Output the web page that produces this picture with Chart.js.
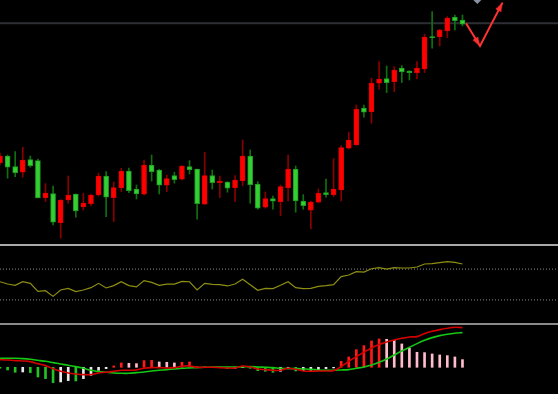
<!DOCTYPE html>
<html><head><meta charset="utf-8">
<script src="https://cdn.jsdelivr.net/npm/chart.js@4.4.1/dist/chart.umd.min.js"></script>
<style>
html,body{margin:0;padding:0;background:#000;overflow:hidden;}
#wrap{position:relative;width:558px;height:394px;background:#000;}
canvas{position:absolute;left:0;display:block;}
.sep{position:absolute;left:0;width:558px;height:2px;}
</style></head><body>
<div id="wrap">
<canvas id="main" width="558" height="244" style="top:0;width:558px;height:244px"></canvas>
<div class="sep" style="top:244px;background:#a9a9a9"></div>
<canvas id="rsi" width="558" height="77" style="top:246px;width:558px;height:77px"></canvas>
<div class="sep" style="top:323px;background:#8a8a8a"></div>
<canvas id="macd" width="558" height="69" style="top:325px;width:558px;height:69px"></canvas>
</div>
<script>
// ---- data ----
const openP  = [11.87,12.20,11.67,11.39,12.02,11.97,10.12,10.32,8.87,10.00,
                10.29,9.65,9.82,10.25,11.19,10.12,10.60,11.45,10.54,10.29,
                11.74,11.49,10.74,11.22,11.04,11.67,11.54,9.79,11.22,10.87,
                10.90,10.62,10.95,12.19,10.80,9.64,10.07,9.92,10.62,11.55,
                9.95,9.49,9.89,10.37,10.27,10.50,12.59,12.75,14.60,14.42,
                15.84,16.07,15.92,16.60,16.44,16.37,16.55,18.17,18.15,18.45,
                19.14,19.00];
const highP  = [12.35,12.25,12.42,12.64,12.20,12.05,10.82,10.70,10.02,11.20,
                10.30,10.34,10.30,11.34,11.42,10.90,11.59,11.59,10.75,12.00,
                12.25,11.54,11.24,11.39,11.72,11.97,11.55,12.39,11.50,11.20,
                10.92,11.22,13.00,12.50,10.92,10.40,10.20,10.75,12.25,11.70,
                10.27,9.94,10.55,11.04,12.07,12.72,13.39,14.75,14.74,16.09,
                16.92,16.70,16.67,16.72,16.47,16.92,18.29,19.42,18.54,19.17,
                19.25,19.25];
const lowP   = [11.75,11.09,11.17,11.14,11.64,10.10,9.92,8.75,8.09,9.84,
                9.14,9.50,9.70,10.20,9.17,8.92,10.42,10.37,10.05,10.25,
                10.95,10.30,10.42,10.84,11.00,11.30,9.04,9.78,10.55,10.12,
                10.39,9.92,10.72,9.84,9.54,9.59,9.54,9.22,9.95,9.39,
                9.54,8.55,9.85,10.14,10.17,9.95,12.55,12.74,14.14,13.84,
                15.54,15.37,15.42,15.87,16.00,16.05,16.37,17.59,17.70,18.12,
                18.50,18.70];
const closeP = [12.20,11.64,11.37,12.00,11.72,10.10,10.34,8.89,10.00,10.25,
                9.45,9.85,10.25,11.20,10.14,10.62,11.45,10.47,10.30,11.74,
                11.42,10.74,11.07,11.02,11.70,11.52,9.82,11.22,10.87,10.94,
                10.59,10.99,12.19,10.77,9.59,10.07,9.94,10.67,11.55,9.95,
                9.72,9.90,10.35,10.27,10.54,12.62,13.00,14.55,14.39,15.85,
                16.05,15.87,16.50,16.40,16.37,16.59,18.15,18.12,18.49,19.10,
                18.97,18.79];
const rsiValues = [53.6,50.6,48.9,53.6,51.5,41.1,42.0,34.6,42.9,45.0,
                   40.7,42.9,45.9,51.5,45.5,48.5,53.6,48.5,46.8,55.0,
                   52.8,48.9,50.6,50.6,54.1,53.6,42.9,51.5,50.2,49.8,
                   48.1,50.6,56.7,49.8,42.4,45.0,44.6,49.0,53.6,45.9,
                   44.6,45.0,47.6,48.5,49.8,60.2,62.3,66.7,66.2,70.5,
                   71.8,70.1,71.8,71.4,71.4,72.7,76.6,77.1,78.4,79.7,
                   78.8,76.6];
const rsiLevels = [70, 30];
const difValues = [0.138,0.132,0.120,0.114,0.102,0.066,0.030,-0.024,-0.072,-0.102,
                   -0.120,-0.132,-0.132,-0.102,-0.090,-0.072,-0.054,-0.054,-0.048,-0.018,
                   -0.006,-0.006,-0.012,-0.006,0.018,0.024,0,0,0,-0.006,
                   -0.012,-0.012,0.024,0.006,-0.030,-0.042,-0.054,-0.054,-0.018,-0.036,
                   -0.066,-0.072,-0.066,-0.066,-0.060,0.012,0.108,0.192,0.270,0.348,
                   0.408,0.456,0.492,0.522,0.546,0.552,0.606,0.648,0.678,0.702,
                   0.720,0.714];
const deaValues = [0.162,0.162,0.162,0.156,0.144,0.126,0.108,0.084,0.060,0.036,
                   0.012,-0.018,-0.054,-0.078,-0.090,-0.102,-0.108,-0.108,-0.096,-0.084,
                   -0.066,-0.054,-0.042,-0.030,-0.018,-0.012,-0.006,0,0,0.006,
                   0.006,0.006,0.006,0.012,0.006,0,-0.006,-0.018,-0.024,-0.024,
                   -0.030,-0.036,-0.048,-0.054,-0.054,-0.048,-0.042,-0.018,0.006,0.042,
                   0.090,0.150,0.222,0.294,0.360,0.426,0.486,0.534,0.570,0.594,
                   0.612,0.624];
const histValues = [-0.018,-0.048,-0.090,-0.084,-0.096,-0.174,-0.204,-0.276,-0.264,-0.240,
                    -0.246,-0.204,-0.144,-0.054,-0.024,0.024,0.078,0.072,0.066,0.120,
                    0.126,0.096,0.090,0.078,0.090,0.096,0.006,0.006,0.009,0.003,
                    -0.024,-0.018,-0.006,-0.018,-0.060,-0.072,-0.090,-0.072,-0.024,-0.066,
                    -0.060,-0.054,-0.048,-0.024,-0.012,0.108,0.186,0.318,0.390,0.474,
                    0.510,0.504,0.486,0.420,0.342,0.270,0.264,0.240,0.222,0.210,
                    0.186,0.138];
const priceLevel = 18.84;
const arrowPath = [[61.47,18.84],[63.31,17.70],[66.28,19.87]];
const markerPoint = [62.96, 20.0];

// ---- view ranges ----
const X_MIN = 0, X_MAX = 73.6;
const PRICE_MIN = 7.8, PRICE_MAX = 20.0;
const MACD_MIN = -0.4806, MACD_MAX = 0.761;

const idx = openP.map((_, i) => i);
const isUp = i => closeP[i] >= openP[i];

function baseOptions(yMin, yMax) {
  return {
    responsive: false, animation: false, events: [],
    devicePixelRatio: 1,
    layout: { padding: 0, autoPadding: false },
    plugins: { legend: { display: false }, tooltip: { enabled: false } },
    scales: {
      x: { type: 'linear', display: false, min: X_MIN, max: X_MAX, offset: false },
      y: { type: 'linear', display: false, min: yMin, max: yMax }
    }
  };
}

// arrow head image (tip at centre, pointing up)
const head = document.createElement('canvas');
head.width = 18; head.height = 18;
(function(){ const c = head.getContext('2d'); c.fillStyle = '#ff3030';
  c.beginPath(); c.moveTo(9, 9); c.lineTo(5.8, 18); c.lineTo(12.2, 18); c.closePath(); c.fill(); })();

function headRotation(ctx) {
  const ch = ctx.chart, sx = ch.scales.x, sy = ch.scales.y;
  const a = arrowPath[ctx.dataIndex], b = arrowPath[ctx.dataIndex + 1];
  if (!a || !b) return 0;
  const dx = sx.getPixelForValue(b[0]) - sx.getPixelForValue(a[0]);
  const dy = sy.getPixelForValue(b[1]) - sy.getPixelForValue(a[1]);
  return Math.atan2(dx, -dy) * 180 / Math.PI;
}

new Chart(document.getElementById('main'), {
  type: 'bar',
  data: { datasets: [
    { type: 'line', order: -3, data: arrowPath.slice(1).map(p => ({x: p[0], y: p[1]})),
      showLine: false, pointStyle: head, pointRadius: 4, rotation: headRotation },
    { type: 'line', order: -2, data: arrowPath.map(p => ({x: p[0], y: p[1]})),
      borderColor: '#ff3333', borderWidth: 2, pointRadius: 0, tension: 0 },
    { type: 'line', order: -1, data: [{x: markerPoint[0], y: markerPoint[1]}], showLine: false,
      pointStyle: 'rectRot', pointRadius: 4, pointBackgroundColor: '#8792a2', pointBorderWidth: 0 },
    { order: 0, grouped: false, barThickness: 5, minBarLength: 1, borderSkipped: false,
      data: idx.map(i => ({x: i, y: [openP[i], closeP[i]]})),
      backgroundColor: idx.map(i => isUp(i) ? '#ff0000' : '#33cf33'),
      borderColor: idx.map(i => isUp(i) ? '#e00000' : '#1f9a1f'),
      borderWidth: 1 },
    { order: 1, grouped: false, barThickness: 1,
      data: idx.map(i => ({x: i, y: [lowP[i], highP[i]]})),
      backgroundColor: idx.map(i => isUp(i) ? '#8a0000' : '#0f700f'),
      borderWidth: 0 },
    { type: 'line', order: 2, data: [{x: X_MIN, y: priceLevel}, {x: X_MAX, y: priceLevel}],
      borderColor: '#2c2f34', borderWidth: 2, pointRadius: 0 }
  ]},
  options: baseOptions(PRICE_MIN, PRICE_MAX)
});

new Chart(document.getElementById('rsi'), {
  type: 'line',
  data: { datasets: [
    { order: 0, data: idx.map(i => ({x: i, y: rsiValues[i]})),
      borderColor: '#8e8e14', borderWidth: 1.2, pointRadius: 0, tension: 0 },
    ...rsiLevels.map(v => ({ order: 1, data: [{x: X_MIN, y: v}, {x: X_MAX, y: v}],
      borderColor: '#8a8a8a', borderWidth: 1, borderDash: [1, 2], pointRadius: 0 }))
  ]},
  options: baseOptions(0, 100)
});

function histColor(i) {
  const v = histValues[i], p = i > 0 ? histValues[i - 1] : 0;
  if (v >= 0) return v > p ? '#ff1a1a' : '#ffbccb';
  return v < p ? '#22c322' : '#e8e8e8';
}

new Chart(document.getElementById('macd'), {
  type: 'bar',
  data: { datasets: [
    { type: 'line', order: 0, data: idx.map(i => ({x: i, y: difValues[i]})),
      borderColor: '#d40000', borderWidth: 1.6, pointRadius: 0, tension: 0.3 },
    { type: 'line', order: 1, data: idx.map(i => ({x: i, y: deaValues[i]})),
      borderColor: '#14c814', borderWidth: 1.6, pointRadius: 0, tension: 0.3 },
    { order: 2, grouped: false, barThickness: 2,
      data: idx.map(i => ({x: i, y: histValues[i]})),
      backgroundColor: idx.map(histColor), borderWidth: 0 }
  ]},
  options: baseOptions(MACD_MIN, MACD_MAX)
});
</script>
</body></html>
